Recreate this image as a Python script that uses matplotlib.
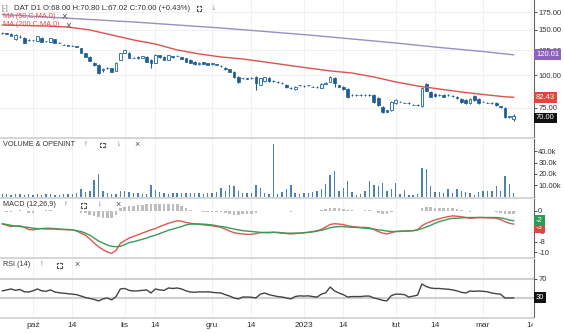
import numpy as np
import pandas as pd
import matplotlib
matplotlib.use("Agg")
import matplotlib.pyplot as plt
from matplotlib.patches import Rectangle
from matplotlib.lines import Line2D
from matplotlib.transforms import Bbox, TransformedBbox, blended_transform_factory

plt.rcParams['font.family'] = ['Liberation Sans', 'DejaVu Sans']

W, H = 564, 334

# GPW trading days, Polish holidays removed
holidays = ['2022-11-01', '2022-11-11', '2022-12-26', '2023-01-06']
start, end = '2022-09-22', '2023-03-10'

opens = [146.0, 145.5, 144.5, 137.5, 141.0, 139.5, 137.0, 136.8, 135.7, 139.5,
         135.8, 134.5, 138.0, 133.5, 131.5, 130.5, 130.3, 129.5, 127.6, 122.0,
         117.8, 111.7, 109.7, 104.5, 106.8, 106.8, 104.1, 114.7, 122.0, 122.0,
         117.0, 117.5, 117.0, 117.8, 114.7, 111.7, 119.5, 118.0, 115.0, 118.5,
         119.0, 117.5, 116.7, 114.7, 113.0, 110.5, 112.5, 111.5, 110.5, 110.5,
         109.0, 107.0, 105.5, 103.1, 98.7, 97.6, 97.6, 97.5, 98.7, 92.0,
         95.0, 97.8, 95.5, 94.6, 93.8, 91.9, 89.8, 88.7, 91.6, 91.3,
         91.5, 90.6, 90.5, 89.5, 93.0, 94.4, 97.8, 91.9, 90.3, 88.7,
         84.3, 84.2, 84.1, 84.0, 84.1, 84.1, 81.9, 75.7, 73.5, 73.7,
         78.4, 79.3, 78.6, 78.5, 77.3, 77.0, 76.3, 92.8, 86.4, 84.9,
         84.2, 84.1, 84.3, 83.6, 82.7, 81.2, 80.5, 78.4, 83.4, 81.2,
         79.3, 78.6, 78.5, 78.4, 76.0, 75.0, 69.3, 68.0]
highs = [147.0, 146.2, 145.0, 143.8, 142.5, 140.0, 137.5, 137.2, 142.0, 140.2,
         136.2, 139.5, 138.5, 134.0, 132.0, 131.0, 130.8, 130.0, 128.0, 122.5,
         118.3, 112.3, 110.2, 106.8, 107.3, 107.2, 112.2, 122.5, 125.8, 122.8,
         117.5, 118.3, 119.2, 118.3, 115.2, 120.4, 120.0, 118.5, 120.0, 119.0,
         119.5, 118.0, 117.2, 115.2, 113.5, 112.5, 113.0, 112.0, 112.0, 111.0,
         109.5, 107.5, 106.0, 103.6, 99.2, 98.1, 98.0, 98.4, 99.2, 98.0,
         99.0, 98.3, 96.0, 95.0, 94.2, 92.4, 90.2, 90.8, 92.3, 91.7,
         92.3, 91.0, 90.9, 93.2, 94.0, 99.1, 98.7, 92.3, 90.7, 89.1,
         84.7, 84.6, 84.5, 84.5, 84.5, 84.5, 82.3, 76.1, 73.9, 79.5,
         80.9, 79.7, 79.0, 78.9, 77.7, 77.4, 89.9, 93.6, 86.8, 85.3,
         84.6, 84.5, 84.7, 84.0, 83.1, 81.6, 80.9, 81.6, 83.8, 81.6,
         79.7, 79.0, 78.9, 78.8, 76.4, 75.4, 70.0, 70.8]
lows = [144.8, 144.0, 141.5, 137.0, 139.5, 133.0, 136.0, 136.0, 135.2, 134.0,
        135.0, 134.0, 133.0, 132.8, 130.6, 129.8, 129.4, 128.2, 121.5, 117.3,
        113.2, 109.2, 101.5, 103.0, 106.0, 102.7, 103.6, 114.2, 121.5, 116.5,
        116.2, 116.0, 116.5, 112.2, 106.8, 111.2, 117.0, 114.2, 114.5, 117.0,
        118.3, 115.5, 112.2, 111.2, 110.0, 110.0, 110.3, 109.5, 110.0, 109.3,
        108.2, 105.0, 103.0, 98.2, 93.9, 97.0, 96.9, 97.0, 88.0, 91.5,
        94.5, 94.7, 94.5, 93.8, 93.0, 89.8, 88.9, 88.3, 91.2, 90.6,
        91.1, 89.9, 89.7, 89.1, 92.6, 94.0, 90.3, 89.9, 88.3, 82.2,
        83.7, 83.6, 83.5, 83.6, 83.4, 78.7, 76.6, 72.0, 72.2, 73.3,
        78.0, 78.8, 78.1, 78.0, 76.7, 76.5, 75.9, 86.8, 82.3, 83.0,
        83.7, 82.3, 83.7, 82.9, 81.5, 78.7, 78.0, 78.0, 80.1, 78.0,
        78.8, 78.1, 77.9, 76.6, 75.3, 68.9, 68.9, 67.02]
closes = [145.0, 144.5, 142.0, 143.0, 140.0, 133.5, 136.5, 136.4, 141.5, 134.5,
          135.3, 139.0, 133.3, 133.0, 131.0, 130.2, 129.8, 128.7, 122.0, 117.8,
          113.7, 109.7, 102.2, 106.0, 106.5, 103.1, 111.7, 122.0, 125.3, 117.0,
          116.7, 116.5, 118.5, 112.7, 111.7, 119.9, 117.5, 114.7, 119.5, 117.5,
          118.8, 116.0, 112.7, 111.7, 110.5, 112.0, 110.8, 110.0, 111.5, 109.8,
          108.7, 105.5, 103.5, 98.7, 94.4, 97.4, 97.3, 98.0, 93.6, 97.5,
          98.5, 95.2, 95.0, 94.2, 93.4, 90.3, 89.3, 90.3, 91.9, 91.0,
          91.9, 90.3, 90.1, 92.8, 93.6, 98.7, 93.6, 90.3, 88.7, 82.7,
          84.1, 84.0, 83.9, 84.1, 83.8, 79.1, 77.0, 72.4, 72.6, 79.1,
          80.5, 79.1, 78.4, 78.3, 77.0, 76.8, 89.5, 87.2, 82.7, 83.4,
          84.0, 82.7, 84.0, 83.3, 81.9, 79.1, 78.4, 81.2, 80.5, 78.4,
          79.1, 78.4, 78.2, 77.0, 75.7, 69.3, 69.7, 70.0]

volume_k = [2, 2, 1.5, 2, 2, 1.5, 2, 1.5, 2, 1.5,
            2, 2, 1, 1.5, 2, 2, 2, 3, 7, 4,
            5, 15, 20, 5, 3, 2, 2, 4.5, 5, 4,
            3, 3, 2, 2, 10, 6, 4, 3, 2, 3,
            3, 3, 3, 3, 3, 3, 2, 3, 3, 4,
            8, 4.5, 10.5, 9, 5, 3, 3, 3, 10, 8,
            3, 2, 47, 2, 4, 7, 10, 3, 2, 3,
            3, 4, 5, 7, 11, 19, 23, 5, 8, 14,
            4, 1.5, 2.5, 5, 14, 10, 9, 12, 5, 7,
            12, 2.5, 6, 1.5, 1.5, 2.5, 25, 24, 9, 4,
            4, 3.5, 7, 3.5, 7, 5, 4, 3.5, 1.5, 4,
            5, 5, 5, 9, 5, 18, 11, 3.5]

macd_line = [-3.2, -3.5, -3.8, -3.7, -3.6, -4.0, -4.5, -4.6, -4.4, -4.3,
             -4.2, -4.2, -4.3, -4.4, -4.5, -4.6, -4.6, -4.9, -5.4, -5.9,
             -6.8, -7.8, -8.7, -9.4, -10.0, -10.3, -9.6, -7.9, -7.2, -6.6,
             -6.2, -5.8, -5.4, -5.0, -4.6, -4.3, -3.8, -3.4, -3.0, -2.7,
             -2.4, -2.5, -2.8, -3.0, -3.1, -3.2, -3.4, -3.5, -3.6, -3.8,
             -4.0, -4.4, -4.9, -5.3, -5.5, -5.6, -5.7, -5.7, -5.5, -5.3,
             -5.2, -5.2, -5.2, -5.2, -5.3, -5.5, -5.6, -5.5, -5.4, -5.3,
             -5.2, -5.0, -4.8, -4.5, -3.9, -3.3, -3.1, -3.2, -3.3, -3.6,
             -3.8, -3.9, -4.0, -4.0, -4.1, -4.5, -5.0, -5.4, -5.6, -5.3,
             -5.0, -4.9, -4.9, -4.8, -4.8, -4.6, -3.6, -3.0, -2.6, -2.2,
             -1.9, -1.6, -1.4, -1.2, -1.3, -1.4, -1.6, -1.8, -1.7, -1.6,
             -1.6, -1.7, -1.7, -1.8, -2.1, -2.6, -3.0, -3.2]
signal_line = [-3.1, -3.3, -3.5, -3.7, -3.8, -3.9, -4.0, -4.2, -4.3, -4.3,
               -4.4, -4.4, -4.4, -4.5, -4.5, -4.5, -4.6, -4.8, -5.0, -5.4,
               -5.9, -6.6, -7.3, -7.8, -8.3, -8.6, -8.7, -8.6, -8.2, -7.7,
               -7.5, -7.2, -6.9, -6.6, -6.2, -5.9, -5.5, -5.1, -4.7, -4.4,
               -4.1, -3.8, -3.4, -3.2, -3.2, -3.2, -3.2, -3.3, -3.4, -3.6,
               -3.8, -3.9, -4.2, -4.4, -4.6, -4.8, -4.9, -5.0, -5.1, -5.2,
               -5.3, -5.3, -5.2, -5.3, -5.4, -5.4, -5.4, -5.4, -5.4, -5.3,
               -5.2, -5.1, -4.9, -4.7, -4.4, -4.1, -3.9, -3.8, -3.8, -3.9,
               -4.0, -4.0, -4.1, -4.2, -4.3, -4.4, -4.6, -4.7, -4.9, -5.0,
               -5.0, -5.0, -4.9, -4.9, -4.8, -4.6, -4.3, -3.9, -3.5, -3.0,
               -2.6, -2.3, -2.0, -1.8, -1.8, -1.7, -1.6, -1.6, -1.6, -1.6,
               -1.6, -1.6, -1.6, -1.6, -1.7, -1.9, -2.2, -2.4]

rsi = [45, 47, 49, 46, 48, 43, 42.6, 45, 49, 45,
       44, 47, 42.6, 41, 40, 39, 38, 37, 34, 31,
       29, 27, 23.7, 28, 30, 26, 33, 49, 50, 46,
       44.7, 45, 46, 47, 40.5, 49, 47, 46, 51, 50,
       51, 49, 45, 42.6, 42, 43, 42.6, 43, 42, 41,
       40.5, 37, 34, 30, 28, 32, 32, 31.5, 30, 38,
       40.5, 37, 35, 33, 32, 30, 28, 33, 34.5, 34,
       34.5, 33, 32, 38, 41, 53, 45, 40.5, 37, 32,
       33, 33, 33, 34, 34, 30, 28, 25, 24, 35,
       38, 38, 37, 32, 34, 36, 59.5, 54, 51, 50,
       50, 49, 48.5, 47, 45, 42, 40.5, 44.7, 44, 44.7,
       44, 43, 40.5, 39, 38, 30, 30, 30.2]

# moving averages every few sessions
ma50_days = [0, 5, 10, 15, 20, 25, 30, 35, 40, 45, 50, 55, 60, 65, 70, 75,
             80, 85, 90, 95, 100, 105, 110, 115, 117]
ma50 = [156.3, 155.6, 154.9, 153.5, 149.6, 143.1, 136.9, 132.1, 125.3, 121.0,
        117.8, 115.7, 112.7, 109.7, 106.8, 104.1, 102.2, 98.7, 94.4, 91.1,
        88.7, 86.4, 84.5, 82.8, 82.43]
ma200_days = [0, 10, 20, 30, 40, 50, 60, 70, 80, 90, 100, 110, 117]
ma200 = [171.5, 167.8, 164.1, 160.5, 156.3, 152.2, 147.6, 143.1, 138.1, 133.3,
         128.1, 123.6, 120.01]

tick_dates = ['2022-10-03', '2022-10-14', '2022-11-02', '2022-11-14', '2022-12-01',
              '2022-12-14', '2023-01-02', '2023-01-16', '2023-02-01', '2023-02-14',
              '2023-03-01', '2023-03-14']
tick_labels = ['paź', '14', 'lis', '14', 'gru', '14', '2023', '14', 'lut', '14', 'mar', '14']

dates = pd.bdate_range(start, end, freq='C', holidays=holidays)
idx = np.arange(len(dates))
o, hi, lo, c = (np.array(a, dtype=float) for a in (opens, highs, lows, closes))
macd_a = np.array(macd_line)
sig_a = np.array(signal_line)
hist = macd_a - sig_a


def date_pos(d):
    d = pd.Timestamp(d)
    if d <= dates[-1]:
        return dates.get_indexer([d], method='bfill')[0]
    # beyond last session the platform spaces by calendar days
    return len(dates) - 1 + (d - dates[-1]).days


tick_pos = [date_pos(d) for d in tick_dates]

fig = plt.figure(figsize=(W / 100, H / 100), dpi=100)
fig.patch.set_facecolor('white')


def fx(px):
    return px / W


def fy(py):
    return 1 - py / H


right = 534
panels = [(0, 137), (139, 197), (199, 257), (259, 317)]
axes = []
for top, bot in panels:
    ax = fig.add_axes([0, fy(bot), fx(right), (bot - top) / H])
    axes.append(ax)
ax_p, ax_v, ax_m, ax_r = axes

# separator bands between panels
for y0, y1 in [(137, 139), (197, 199), (257, 259), (317, 319)]:
    fig.add_artist(Rectangle((0, fy(y1)), fx(right), (y1 - y0) / H,
                             transform=fig.transFigure, color='#d6d6d6', lw=0))

txt = '#333333'
for ax in axes:
    ax.set_xlim(-0.55, 121.65)
    for s in ('top', 'left', 'bottom'):
        ax.spines[s].set_visible(False)
    ax.spines['right'].set_color('#666666')
    ax.spines['right'].set_linewidth(0.8)
    ax.yaxis.tick_right()
    ax.tick_params(axis='y', length=2, width=0.6, pad=1, labelsize=5.5, colors=txt)
    ax.tick_params(axis='x', length=0, labelbottom=False)
    ax.set_xticks(tick_pos)
    ax.grid(axis='x', color='#efefef', lw=0.6)
    ax.set_axisbelow(True)

# price panel
dark = '#1d5b97'
light = '#3576b8'
up = c >= o
body_lo = np.minimum(o, c)
body_h = np.maximum(np.abs(c - o), 0.15)
ax_p.vlines(idx, lo, hi, color=dark, lw=0.8, zorder=2)
ax_p.bar(idx[~up], body_h[~up], bottom=body_lo[~up], width=0.62,
         color=dark, edgecolor=dark, lw=0.5, zorder=3)
ax_p.bar(idx[up], body_h[up], bottom=body_lo[up], width=0.62,
         facecolor='white', edgecolor=light, lw=0.7, zorder=3)
ax_p.plot(ma50_days, ma50, color='#d9534f', lw=1.0, zorder=4)
ax_p.plot(ma200_days, ma200, color='#9b8ec4', lw=1.0, zorder=4)
ax_p.set_yscale('log')
ax_p.set_ylim(58, 195)
ax_p.set_yticks([75, 100, 125, 150, 175])
ax_p.set_yticklabels(['75.00', '100.00', '125.00', '150.00', '175.00'])
ax_p.minorticks_off()
ax_p.grid(axis='y', color='#efefef', lw=0.6)


def value_box(ax, val, label, color, dy=0):
    ax.annotate(label, xy=(1.0, val), xycoords=ax.get_yaxis_transform(),
                xytext=(1.5, dy), textcoords='offset points', ha='left', va='center',
                fontsize=5.5, color='white', zorder=20, annotation_clip=False,
                bbox=dict(boxstyle='square,pad=0.25', fc=color, ec='none'))


value_box(ax_p, ma200[-1], f'{ma200[-1]:.2f}', '#8f63bd')
value_box(ax_p, ma50[-1], f'{ma50[-1]:.2f}', '#e2453b')
value_box(ax_p, closes[-1], f'{closes[-1]:.2f}', '#111111', dy=-1.6)

# volume panel
ax_v.bar(idx, volume_k, width=0.32, color='#4b82b4', zorder=3)
ax_v.set_ylim(-0.44, 51.1)
ax_v.set_yticks([10, 20, 30, 40])
ax_v.set_yticklabels(['10.00k', '20.0k', '30.0k', '40.0k'])

# macd panel
ax_m.bar(idx, hist, width=0.6, color='#bdbdbd', zorder=2)
ax_m.plot(idx, macd_a, color='#e0574f', lw=1.0, zorder=3)
ax_m.plot(idx, sig_a, color='#3a9a5a', lw=1.0, zorder=4)
ax_m.set_ylim(-11.2, 2.9)
# the -3 label sits under the value boxes
ax_m.set_yticks([0, -2.5, -5, -7.5, -10])
ax_m.set_yticklabels(['0', '', '-5', '-8', '-10'])
value_box(ax_m, macd_a[-1], f'{macd_a[-1]:.0f}', '#e2453b', dy=-2.8)
value_box(ax_m, sig_a[-1], f'{sig_a[-1]:.0f}', '#2a9d55')

# rsi panel
ax_r.axhline(70, color='#d0d0d0', lw=1.5, zorder=1)
ax_r.axhline(30, color='#d0d0d0', lw=1.5, zorder=1)
ax_r.plot(idx, rsi, color='#444444', lw=1.0, zorder=3)
ax_r.set_ylim(-10, 112)
ax_r.set_yticks([30, 70])
ax_r.set_yticklabels(['', '70'])
value_box(ax_r, rsi[-1], f'{rsi[-1]:.0f}', '#111111')

# date labels under the last panel
tr = blended_transform_factory(ax_r.transData, ax_r.transAxes)
clip = TransformedBbox(Bbox([[0, 0], [fx(533), 1]]), fig.transFigure)
for pos, lab in zip(tick_pos, tick_labels):
    t = ax_r.text(pos, -0.14, lab, transform=tr, ha='center', va='center',
                  fontsize=6, color=txt)
    t.set_clip_on(True)
    t.set_clip_box(clip)


# header texts
def fig_text(px, py, s, color=txt, size=5.5):
    fig.text(fx(px), fy(py), s, ha='left', va='center', fontsize=size, color=color)


def expand_icon(px, py, color='#555555'):
    # four corner marks, the platform's "maximise" button
    s, a = 2.5, 1.2
    for sx in (-1, 1):
        for sy in (-1, 1):
            cx, cy = px + sx * s, py + sy * s
            xs = [fx(cx - sx * a), fx(cx), fx(cx)]
            ys = [fy(cy), fy(cy), fy(cy - sy * a)]
            fig.add_artist(Line2D(xs, ys, transform=fig.transFigure,
                                  color=color, lw=0.8))


pct = (closes[-1] / closes[-2] - 1) * 100
fig_text(2, 8, '[-]', color='#777777')
fig_text(14, 8, f'DAT D1 O:{opens[-1]:.2f} H:{highs[-1]:.2f} '
                f'L:{lows[-1]:.2f} C:{closes[-1]:.2f} ({pct:+.2f}%)', size=5.6)
expand_icon(199, 8)
fig_text(212, 8, '↓', color='#555555')

ma_red = '#d9534f'
fig_text(3, 16, 'MA (50,C,MA,0)', color=ma_red, size=5.3)
fig_text(61, 16, '×', color='#555555', size=7)
fig_text(3, 25, 'MA (200,C,MA,0)', color=ma_red, size=5.3)
fig_text(65, 25, '×', color='#555555', size=7)

for py, name, icons in [
        (145, 'VOLUME & OPENINT', [(84, '↑'), (102, None), (117, '↓'), (134, '×')]),
        (205, 'MACD (12,26,9)', [(64, '↑'), (83, None), (98, '↓'), (115, '×')]),
        (265, 'RSI (14)', [(40, '↑'), (59, None), (74, '×')])]:
    fig_text(3, py, name, size=5.2)
    for px, s in icons:
        if s is None:
            expand_icon(px, py)
        else:
            fig_text(px, py, s, color='#555555', size=6.5 if s == '×' else 5.5)

fig.savefig('out.png', dpi=100)
